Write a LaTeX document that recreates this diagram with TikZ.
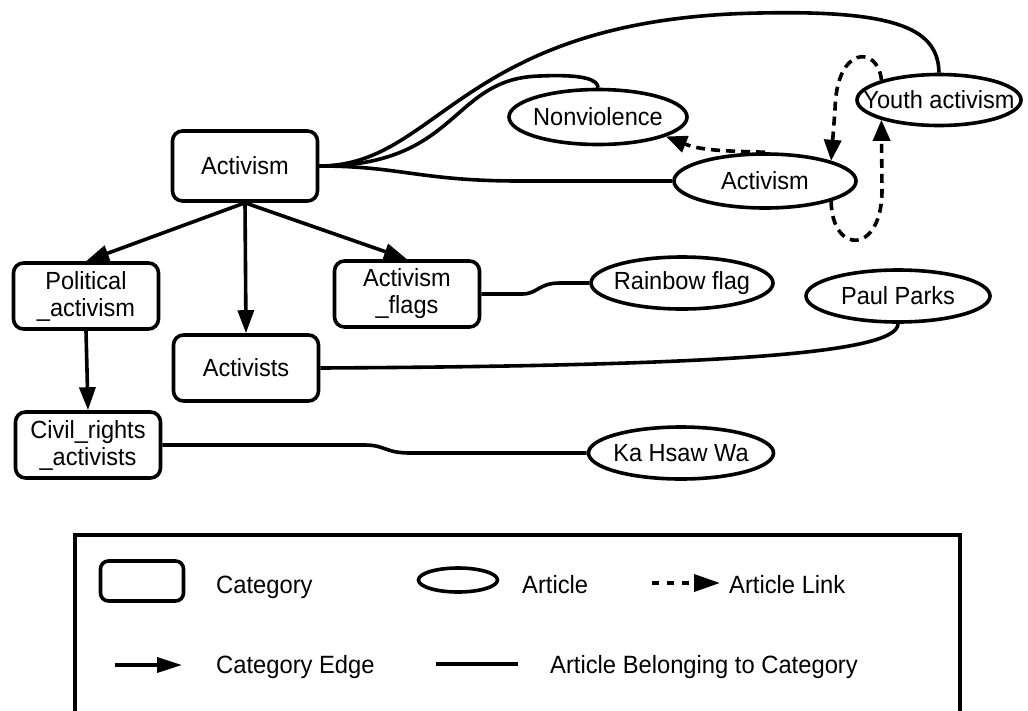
\documentclass[tikz,border=0pt]{standalone}
\usepackage{fontspec}
\setmainfont{Liberation Sans}[FakeStretch=0.95]
\usetikzlibrary{shapes.geometric,arrows.meta}
\newcommand\zw[1]{\makebox[0pt]{#1}}
\begin{document}
\begin{tikzpicture}[x=1pt,y=-1pt,
  mfont/.style={font=\fontsize{24.8}{27}\selectfont},
  catbox/.style={draw,line width=3.6pt,rounded corners=10pt,minimum width=145pt,minimum height=66pt,align=center,mfont,inner sep=0pt},
  artnode/.style={draw,ellipse,line width=3.6pt,inner sep=0pt,mfont},
  cedge/.style={line width=3.6pt,-{Triangle[length=23pt,width=16pt]}},
  belong/.style={line width=3.6pt},
  alink/.style={line width=3.6pt,dash pattern=on 9pt off 6pt,-{Triangle[length=21pt,width=17pt]}},
  lgtext/.style={anchor=base west,inner sep=0pt,font=\fontsize{25}{28}\selectfont},
]
\useasboundingbox (0,0) rectangle (1028,710);
\fill[white] (0,0) rectangle (1028,710);

% category nodes
\node[catbox,minimum height=70pt] (A) at (245,166) {Activism};
\node[catbox] (P) at (86,296) {Political\\\_activism};
\node[catbox] (F) at (407,294) {Activism\\\_flags};
\node[catbox] (Av) at (246,368) {Activists};
\node[catbox] (C) at (88,445) {Civil\_rights\\\_activists};

% article nodes
\node[artnode,minimum width=178pt,minimum height=55pt] (N) at (598,117) {\zw{Nonviolence}};
\node[artnode,minimum width=182pt,minimum height=54pt] (Aa) at (765,181) {\zw{Activism}};
\node[artnode,minimum width=164pt,minimum height=51pt] (Y) at (939,100) {\zw{Youth activism}};
\node[artnode,minimum width=182pt,minimum height=52pt] (R) at (682,283) {\zw{Rainbow flag}};
\node[artnode,minimum width=184pt,minimum height=52pt] (PP) at (898,296) {\zw{Paul Parks}};
\node[artnode,minimum width=185pt,minimum height=52pt] (K) at (681,453) {\zw{Ka Hsaw Wa}};

% category edges
\draw[cedge] (A.south) -- (P.north);
\draw[cedge] (A.south) -- (Av.north);
\draw[cedge] (A.south) -- (F.north);
\draw[cedge] (P.south) -- (C.north);

% article belonging to category
\draw[belong] (A.east) .. controls (460,166) and (450,78) .. (540,76) .. controls (585,74) and (598,80) .. (N.north);
\draw[belong] (A.east) .. controls (440,166) and (460,18) .. (760,13) .. controls (900,10) and (938,30) .. (Y.north);
\draw[belong] (A.east) .. controls (400,166) and (420,181) .. (520,181) -- (Aa.west);
\draw[belong] (F.east) -- (522,294) .. controls (538,294) and (538,283) .. (560,283) -- (R.west);
\draw[belong] (Av.east) .. controls (700,366) and (898,355) .. (PP.south);
\draw[belong] (C.east) -- (365,445) .. controls (385,445) and (385,453) .. (410,453) -- (K.west);

% article links
\draw[alink] (Aa.north) .. controls (720,151) and (700,150) .. (N.-16);
\draw[alink] (Y.161) .. controls (878,45) and (836,45) .. (835,110) -- (Aa.17);
\draw[alink] (Aa.-17) .. controls (832,255) and (882,255) .. (882,190) -- (Y.-161);

% legend
\draw[line width=3.6pt] (75,716) -- (75,535) -- (960,535) -- (960,716);
\node[draw,line width=3.6pt,rounded corners=8pt,minimum width=83pt,minimum height=40pt,inner sep=0pt] (LC) at (142,581) {};
\node[lgtext] (LCt) at (216,593) {Category};
\node[draw,ellipse,line width=3.6pt,minimum width=79pt,minimum height=24pt,inner sep=0pt] (LA) at (458,580) {};
\node[lgtext] (LAt) at (522,593) {Article};
\coordinate (L1a) at (652,583);
\coordinate (L1b) at (720,583);
\draw[line width=3.6pt,dash pattern=on 7pt off 8pt,-{Triangle[length=26pt,width=17pt]}] (L1a) -- (L1b);
\node[lgtext] (LLt) at (729,593) {Article Link};
\coordinate (L2a) at (115,665);
\coordinate (L2b) at (182,665);
\draw[line width=3.6pt,-{Triangle[length=25pt,width=15pt]}] (L2a) -- (L2b);
\node[lgtext] (LEt) at (216,673) {Category Edge};
\coordinate (L3a) at (436,664);
\coordinate (L3b) at (518,664);
\draw[belong] (L3a) -- (L3b);
\node[lgtext] (LBt) at (550,673) {Article Belonging to Category};
\end{tikzpicture}
\end{document}
